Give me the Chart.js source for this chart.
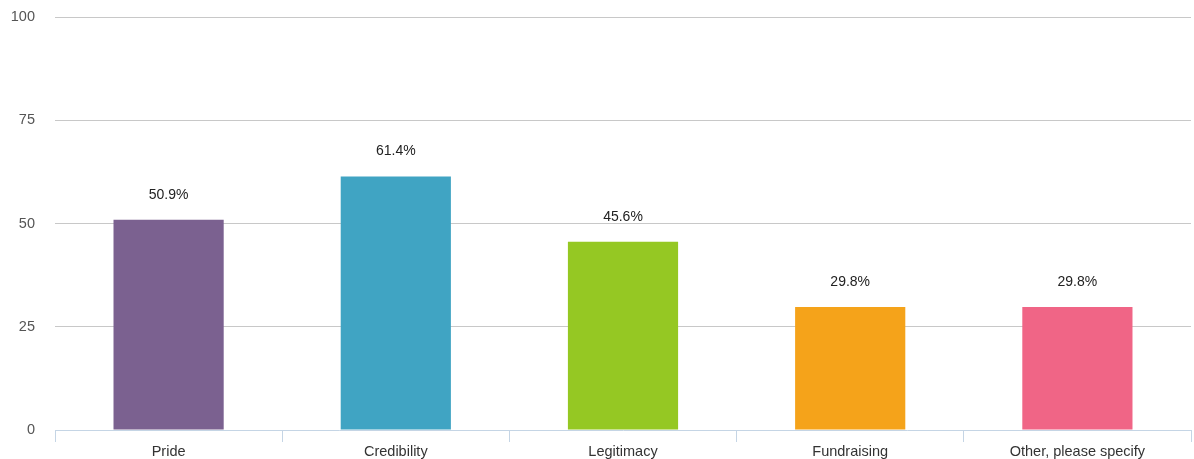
<!DOCTYPE html>
<html>
<head>
<meta charset="utf-8">
<script src="https://cdn.jsdelivr.net/npm/chart.js@4/dist/chart.umd.min.js"></script>
<style>
html,body{margin:0;padding:0;background:#fff;}
#wrap{width:1194px;height:459px;}
</style>
</head>
<body>
<div id="wrap"><canvas id="c" width="1194" height="459"></canvas></div>
<script>
const categories = ["Pride", "Credibility", "Legitimacy", "Fundraising", "Other, please specify"];
const values = [50.9, 61.4, 45.6, 29.8, 29.8];
const barColors = ["#7B6190", "#40A4C3", "#95C823", "#F5A31A", "#F06586"];
const yTicks = [0, 25, 50, 75, 100];

const FONT = '"Liberation Sans", Arial, sans-serif';

const valueLabels = {
  id: 'valueLabels',
  afterDatasetsDraw(chart) {
    const ctx = chart.ctx;
    const meta = chart.getDatasetMeta(0);
    ctx.save();
    ctx.font = '14px ' + FONT;
    ctx.fillStyle = '#222';
    ctx.textAlign = 'center';
    ctx.textBaseline = 'middle';
    meta.data.forEach((bar, i) => {
      ctx.fillText(values[i].toFixed(1) + '%', bar.x, bar.y - 25);
    });
    ctx.restore();
  }
};

new Chart(document.getElementById('c'), {
  type: 'bar',
  data: {
    labels: categories,
    datasets: [{
      data: values,
      backgroundColor: barColors,
      borderWidth: 0,
      categoryPercentage: 1,
      barPercentage: 0.485
    }]
  },
  options: {
    responsive: false,
    animation: false,
    layout: { padding: { top: 17, right: 3, left: 0, bottom: 0 } },
    plugins: { legend: { display: false }, tooltip: { enabled: false } },
    scales: {
      x: {
        grid: { display: true, drawOnChartArea: false, offset: true, color: '#c5d5e5', tickLength: 12, lineWidth: 1 },
        border: { display: true, color: '#c5d5e5', width: 1 },
        ticks: { color: '#333', font: { family: FONT, size: 14.5 }, padding: 1, maxRotation: 0 },
        afterFit: s => { s.height = 29; s.paddingLeft = 0; s.paddingRight = 0; }
      },
      y: {
        min: 0, max: 100,
        afterBuildTicks: s => { s.ticks = yTicks.map(v => ({ value: v })); },
        grid: { drawTicks: false, tickLength: 0, color: ctx => ctx.tick && ctx.tick.value === 0 ? 'rgba(0,0,0,0)' : '#c8c8c8' },
        border: { display: false },
        ticks: { color: '#555', font: { family: FONT, size: 14.5 }, padding: 20 },
        afterFit: s => { s.width = 55; s.paddingTop = 0; s.paddingBottom = 0; }
      }
    }
  },
  plugins: [valueLabels]
});
</script>
</body>
</html>
